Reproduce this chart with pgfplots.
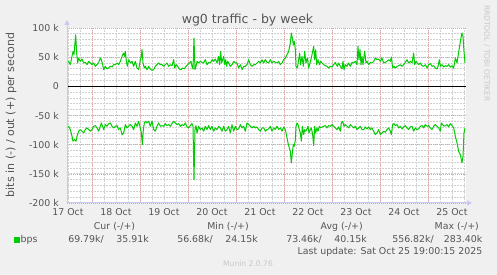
\documentclass[border=0pt]{standalone}
\usepackage{pgfplots}
\pgfplotsset{compat=1.18}
\usepackage{pgfplotstable}
\usepackage{fontspec}
\setmainfont{DejaVu Sans}
\usetikzlibrary{arrows.meta}
\definecolor{bggray}{RGB}{240,240,240}
\definecolor{textgray}{RGB}{85,85,85}
\definecolor{lightgray}{RGB}{200,200,200}
\definecolor{mgrid}{RGB}{238,160,160}
\definecolor{grid}{RGB}{208,208,208}
\definecolor{axisblue}{RGB}{200,200,245}
\definecolor{bps}{RGB}{0,204,0}
\newcommand{\tf}{\fontsize{9.4bp}{11bp}\selectfont}

\pgfplotstableread{
h v
11.5 40.0
12.33 42.9
13.17 37.1
14.5 60.0
15.0 54.3
15.83 88.5
16.33 57.1
16.83 40.0
17.33 48.6
18.17 42.9
19.0 46.8
19.83 40.0
20.67 41.1
21.5 37.1
22.33 42.9
23.17 40.0
24.0 37.1
24.83 40.0
25.67 34.3
26.5 37.1
27.33 41.1
28.17 48.6
28.67 45.7
29.33 37.1
29.83 28.6
30.67 34.3
31.5 29.7
32.33 31.4
33.17 34.3
34.0 33.1
34.83 37.1
35.67 37.1
36.5 40.0
37.33 37.1
38.17 42.9
39.0 51.4
39.83 57.1
40.33 51.4
40.67 60.0
41.17 42.9
41.67 34.3
42.33 45.7
43.17 40.0
44.0 42.9
44.83 34.3
45.67 42.9
46.5 31.4
47.33 28.6
48.17 45.7
48.67 51.4
49.0 62.8
49.5 40.0
50.17 31.4
50.67 34.3
51.5 28.6
52.33 34.3
53.17 29.7
54.0 27.4
54.83 28.6
55.67 34.3
56.5 37.1
57.33 40.0
58.17 37.1
59.0 37.1
59.83 34.3
60.67 37.1
61.5 40.0
62.33 34.3
63.17 37.1
64.0 35.4
64.83 45.7
65.33 31.4
66.0 37.1
66.83 34.3
67.67 29.7
68.5 28.6
69.33 31.4
70.17 29.7
71.0 34.3
71.83 37.1
72.67 40.0
73.5 42.9
74.0 34.3
74.5 29.7
75.0 82.8
75.5 28.6
76.0 34.3
76.5 42.9
77.33 40.0
78.17 42.9
79.0 41.1
79.83 40.0
80.67 45.7
81.5 37.1
82.33 41.1
83.17 40.0
84.0 45.7
84.83 42.9
85.67 46.8
86.5 40.0
87.33 51.4
87.83 37.1
88.33 60.0
88.83 40.0
89.33 45.7
89.83 51.4
90.33 37.1
90.83 45.7
91.33 34.3
91.83 42.9
92.33 40.0
93.17 34.3
94.0 37.1
94.83 42.9
95.67 40.0
96.5 40.0
97.33 31.4
98.17 37.1
99.0 28.6
99.83 34.3
100.67 34.3
101.5 37.1
102.33 45.7
103.17 37.1
104.0 34.3
104.83 37.1
105.67 37.1
106.5 40.0
107.33 42.9
108.17 40.0
109.0 45.7
109.83 40.0
110.67 45.7
111.5 41.1
112.33 40.0
113.17 45.7
114.0 40.0
114.83 42.9
115.67 41.1
116.5 40.0
117.33 42.9
118.17 37.1
119.0 40.0
119.83 45.7
120.67 48.6
121.5 54.3
122.33 60.0
123.17 74.2
123.67 91.4
124.17 82.8
124.67 71.4
125.17 77.1
125.67 62.8
126.0 34.3
126.67 31.4
127.33 45.7
127.83 57.1
128.33 37.1
129.0 51.4
129.67 34.3
130.33 60.0
131.0 40.0
131.67 48.6
132.33 31.4
133.0 40.0
133.67 48.6
134.33 60.0
134.83 68.5
135.33 45.7
135.83 62.8
136.33 37.1
137.0 45.7
137.67 37.1
138.33 42.9
139.0 40.0
139.83 37.1
140.67 35.4
141.5 34.3
142.33 31.4
143.17 34.3
144.0 33.1
144.83 37.1
145.67 41.1
146.17 37.1
146.67 34.3
147.33 40.0
148.17 34.3
149.0 29.7
149.5 42.9
150.0 28.6
150.67 37.1
151.5 34.3
152.33 40.0
153.17 34.3
154.0 41.1
154.83 40.0
155.67 42.9
156.5 37.1
157.0 68.5
157.5 45.7
158.0 62.8
158.5 37.1
159.0 51.4
159.5 37.1
160.33 60.0
161.0 40.0
161.5 42.9
162.33 37.1
163.17 41.1
164.0 40.0
164.83 42.9
165.67 48.6
166.5 45.7
167.33 46.8
168.17 42.9
169.0 48.6
169.83 40.0
170.67 41.1
171.5 42.9
172.33 45.7
173.17 42.9
173.67 50.3
174.33 31.4
175.0 34.3
175.67 31.4
176.5 34.3
177.33 35.4
178.17 37.1
179.0 34.3
179.83 37.1
180.67 41.1
181.5 45.7
182.33 40.0
183.17 42.9
184.0 40.0
184.83 57.1
185.33 37.1
186.0 42.9
186.67 40.0
187.33 37.1
188.17 40.0
189.0 35.4
189.83 34.3
190.67 37.1
191.5 31.4
192.33 37.1
193.17 38.9
194.0 34.3
194.83 35.4
195.67 31.4
196.5 29.7
197.0 34.3
197.67 45.7
198.17 34.3
199.0 37.1
199.83 33.1
200.67 35.4
201.5 34.3
202.33 37.1
203.17 33.1
204.0 35.4
204.83 31.4
205.67 48.6
206.5 40.0
207.0 51.4
207.67 65.7
208.33 80.0
209.0 91.4
209.5 85.7
210.0 60.0
210.5 40.0
}\outdata

\pgfplotstableread{
h v
11.5 -71.3
12.33 -68.5
13.17 -74.2
14.0 -85.6
14.5 -94.1
15.33 -91.3
16.0 -94.1
16.5 -85.6
17.33 -77.0
18.17 -74.2
19.0 -77.0
19.83 -79.9
20.67 -74.2
21.5 -71.3
22.33 -74.2
23.17 -77.0
24.0 -74.2
24.83 -68.5
25.67 -67.3
26.5 -71.3
27.33 -77.0
28.17 -68.5
28.67 -62.8
29.33 -68.5
29.83 -74.2
30.67 -65.6
31.5 -68.5
32.33 -63.9
33.17 -62.8
34.0 -68.5
34.83 -71.3
35.67 -68.5
36.5 -67.3
37.33 -74.2
38.17 -71.3
39.0 -82.7
39.83 -79.9
40.67 -65.6
41.5 -71.3
42.33 -68.5
43.17 -65.6
44.0 -68.5
44.83 -74.2
45.67 -62.8
46.5 -68.5
47.33 -59.9
48.17 -71.3
48.67 -79.9
49.17 -99.9
49.67 -74.2
50.17 -62.8
50.67 -59.9
51.5 -62.8
52.33 -59.9
53.17 -68.5
54.0 -59.9
54.83 -74.2
55.67 -77.0
56.5 -68.5
57.33 -62.8
58.17 -68.5
59.0 -67.3
59.83 -68.5
60.67 -63.9
61.5 -67.3
62.33 -65.6
63.17 -68.5
64.0 -63.9
64.83 -59.9
65.67 -62.8
66.5 -65.6
67.33 -63.9
68.17 -68.5
69.0 -65.6
69.83 -67.3
70.67 -62.8
71.5 -69.6
72.33 -71.3
73.17 -67.3
74.0 -63.9
74.5 -68.5
75.0 -159.8
75.5 -74.2
76.0 -67.3
76.5 -79.9
77.33 -68.5
78.17 -74.2
79.0 -71.3
79.83 -77.0
80.67 -68.5
81.5 -74.2
82.33 -67.3
83.17 -74.2
84.0 -68.5
84.83 -77.0
85.67 -71.3
86.5 -74.2
87.33 -68.5
88.17 -71.3
89.0 -77.0
89.83 -68.5
90.67 -77.0
91.5 -74.2
92.33 -68.5
93.17 -79.9
94.0 -65.6
94.83 -77.0
95.67 -68.5
96.5 -74.2
97.33 -73.0
98.17 -65.6
99.0 -71.3
99.83 -68.5
100.67 -77.0
101.5 -62.8
102.33 -65.6
103.17 -68.5
104.0 -71.3
104.83 -68.5
105.67 -71.3
106.5 -69.6
107.33 -74.2
108.17 -77.0
109.0 -71.3
109.83 -71.3
110.67 -77.0
111.5 -74.2
112.33 -73.0
113.17 -68.5
114.0 -77.0
114.83 -71.3
115.67 -74.2
116.5 -68.5
117.33 -74.2
118.17 -71.3
119.0 -77.0
119.83 -69.6
120.67 -74.2
121.5 -88.4
122.0 -97.0
122.67 -105.6
123.17 -111.3
123.67 -131.2
124.17 -114.1
124.67 -99.9
125.17 -102.7
125.67 -91.3
126.0 -68.5
126.5 -62.8
127.0 -65.6
127.67 -74.2
128.17 -79.9
128.67 -94.1
129.17 -68.5
129.83 -82.7
130.33 -74.2
130.83 -77.0
131.33 -74.2
132.0 -68.5
132.5 -79.9
133.17 -74.2
133.67 -71.3
134.33 -82.7
134.83 -101.6
135.33 -68.5
135.83 -79.9
136.5 -71.3
137.0 -77.0
137.67 -68.5
138.33 -71.3
139.0 -69.6
139.83 -68.5
140.67 -67.3
141.5 -71.3
142.33 -67.3
143.17 -68.5
144.0 -65.6
144.83 -68.5
145.67 -71.3
146.5 -74.2
147.33 -69.6
148.17 -77.0
148.67 -62.8
149.33 -59.9
150.0 -68.5
150.67 -65.6
151.5 -68.5
152.33 -71.3
153.17 -65.6
154.0 -68.5
154.83 -71.3
155.67 -68.5
156.5 -74.2
157.33 -71.3
158.17 -68.5
159.0 -74.2
159.83 -74.2
160.67 -69.6
161.5 -73.0
162.33 -69.6
163.17 -74.2
164.0 -71.3
164.83 -77.0
165.67 -82.7
166.5 -79.9
167.33 -74.2
168.17 -82.7
169.0 -79.9
169.83 -77.0
170.67 -78.7
171.5 -74.2
172.33 -71.3
173.17 -77.0
173.67 -82.7
174.33 -65.6
175.0 -63.9
175.67 -67.3
176.5 -65.6
177.33 -71.3
178.17 -68.5
179.0 -73.0
179.83 -69.6
180.67 -67.3
181.5 -71.3
182.33 -74.2
183.17 -69.6
184.0 -68.5
184.83 -77.0
185.67 -71.3
186.5 -74.2
187.33 -73.0
188.17 -68.5
189.0 -67.3
189.83 -71.3
190.67 -65.6
191.5 -68.5
192.33 -67.3
193.17 -71.3
194.0 -74.2
194.83 -68.5
195.67 -65.6
196.5 -68.5
197.33 -71.3
198.17 -77.0
198.67 -62.8
199.33 -65.6
200.0 -68.5
200.67 -67.3
201.5 -65.6
202.33 -69.6
203.17 -63.9
204.0 -67.3
204.83 -71.3
205.67 -85.6
206.5 -97.0
207.33 -111.3
208.17 -117.0
209.0 -131.2
209.5 -119.8
210.0 -79.9
210.5 -71.3
}\indata

\begin{document}
\begin{tikzpicture}
\path[use as bounding box, fill=bggray] (0,0) rectangle (497bp,275bp);
\begin{axis}[
  at={(67bp,72bp)}, anchor=south west,
  width=399bp, height=175bp, scale only axis,
  xmin=11.5, xmax=211, ymin=-200, ymax=100,
  axis background/.style={fill=white},
  axis line style={draw=none},
  clip=false,
  xtick={12,36,...,204},
  xticklabels={17 Oct,18 Oct,19 Oct,20 Oct,21 Oct,22 Oct,23 Oct,24 Oct,25 Oct},
  minor xtick={12,18,...,210},
  xmajorgrids=false, xminorgrids=true,
  extra x ticks={24,48,...,192},
  extra x tick labels={},
  extra x tick style={grid=major},
  ytick={-200,-150,...,100},
  yticklabels={-200 k,-150 k,-100 k,-50 k,0,50 k,100 k},
  minor ytick={-190,-180,...,90},
  ymajorgrids=true, yminorgrids=true,
  major grid style={draw=mgrid, line width=0.6bp, dash pattern=on 1bp off 1bp},
  minor grid style={draw=grid, line width=0.8bp, dash pattern=on 1.5bp off 1.5bp},
  tick style={draw=none},
  xticklabel style={anchor=base, inner sep=0pt, yshift=-12.7bp, font=\tf, text=textgray},
  yticklabel style={anchor=east, inner sep=0pt, xshift=-8bp, font=\tf, text=textgray},
]
\draw[black, line width=1bp] (rel axis cs:0,0.6667) -- (rel axis cs:1,0.6667);
\addplot[bps, line width=1bp, line join=round, no marks] table[x=h, y=v] {\outdata};
\addplot[bps, line width=1bp, line join=round, no marks] table[x=h, y=v] {\indata};
\draw[axisblue, line width=1bp, -{Triangle[length=5bp,width=5bp]}] (rel axis cs:0,0) -- ([yshift=8bp]rel axis cs:0,1);
\draw[axisblue, line width=1bp, -{Triangle[length=5bp,width=5bp]}] (rel axis cs:0,0) -- ([xshift=6bp]rel axis cs:1,0);
\end{axis}
% title and labels
\node[anchor=base, inner sep=0pt, text=textgray, font=\fontsize{12.5bp}{14bp}\selectfont] at (247.5bp,251.7bp) {wg0 traffic - by week};
\node[rotate=90, inner sep=0pt, text=textgray, font=\fontsize{11bp}{13bp}\selectfont] at (11bp,160bp) {bits in (-) / out (+) per second};
\node[rotate=-90, inner sep=0pt, text=lightgray, font=\fontsize{7.5bp}{9bp}\selectfont] at (486.7bp,221.5bp) {RRDTOOL / TOBI OETIKER};
% legend
\begin{scope}[every node/.style={inner sep=0pt, text=textgray, font=\tf}]
\node[anchor=base] at (114.5bp,45bp) {Cur (-/+)};
\node[anchor=base] at (228bp,45bp) {Min (-/+)};
\node[anchor=base] at (341.7bp,45bp) {Avg (-/+)};
\node[anchor=base] at (456.8bp,45bp) {Max (-/+)};
\fill[bps] (14bp,32.3bp) rectangle (19.5bp,37.8bp);
\node[anchor=base west] at (20.5bp,32.5bp) {bps};
\node[anchor=base east] at (104bp,32.5bp) {69.79k/};
\node[anchor=base east] at (149bp,32.5bp) {35.91k};
\node[anchor=base east] at (213bp,32.5bp) {56.68k/};
\node[anchor=base east] at (258bp,32.5bp) {24.15k};
\node[anchor=base east] at (322bp,32.5bp) {73.46k/};
\node[anchor=base east] at (367bp,32.5bp) {40.15k};
\node[anchor=base east] at (434bp,32.5bp) {556.82k/};
\node[anchor=base east] at (482.5bp,32.5bp) {283.40k};
\node[anchor=base east] at (482.5bp,20.7bp) {Last update: Sat Oct 25 19:00:15 2025};
\end{scope}
\node[anchor=base, inner sep=0pt, text=lightgray, font=\fontsize{7.6bp}{9bp}\selectfont] at (248bp,9bp) {Munin 2.0.76};
\end{tikzpicture}
\end{document}
